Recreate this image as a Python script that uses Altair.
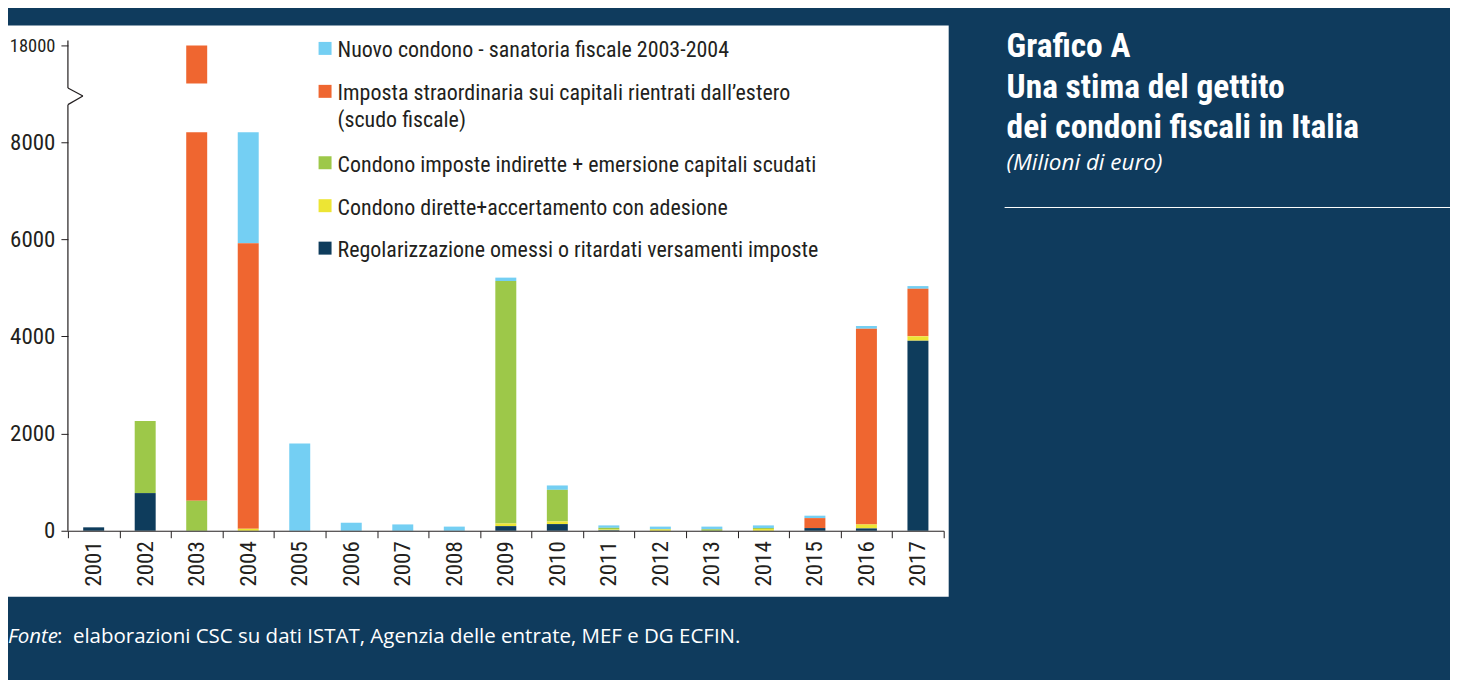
import altair as alt
import pandas as pd

# ---------------- data ----------------
years = [str(y) for y in range(2001, 2018)]
series = [
    "Nuovo condono - sanatoria fiscale 2003-2004",
    "Imposta straordinaria sui capitali rientrati dall’estero (scudo fiscale)",
    "Condono imposte indirette + emersione capitali scudati",
    "Condono dirette+accertamento con adesione",
    "Regolarizzazione omessi o ritardati versamenti imposte",
]
legend_labels = [
    "Nuovo condono - sanatoria fiscale 2003-2004",
    "Imposta straordinaria sui capitali rientrati dall’estero\n(scudo fiscale)",
    "Condono imposte indirette + emersione capitali scudati",
    "Condono dirette+accertamento con adesione",
    "Regolarizzazione omessi o ritardati versamenti imposte",
]
colors = ["#74cff3", "#ef6630", "#9dc849", "#ede534", "#0e3c5c"]

nuovo = [0, 0, 0, 2300, 1795, 165, 130, 85, 70, 90, 50, 50, 55, 55, 50, 56, 56]
scudo = [0, 0, 17383, 5880, 0, 0, 0, 0, 0, 0, 0, 0, 0, 0, 205, 4028, 978]
indirette = [0, 1485, 617, 0, 0, 0, 0, 0, 4990, 650, 35, 10, 30, 20, 0, 0, 0]
dirette = [0, 0, 0, 40, 0, 0, 0, 0, 55, 55, 15, 25, 0, 35, 0, 82, 90]
regolarizzazione = [70, 775, 0, 0, 0, 0, 0, 0, 95, 137, 10, 0, 0, 0, 55, 48, 3912]
values = [nuovo, scudo, indirette, dirette, regolarizzazione]

y_ticks = [0, 2000, 4000, 6000, 8000, 18000]
y_top = 18000
break_low, break_high = 8200, 16000

title_lines = "Grafico A\nUna stima del gettito\ndei condoni fiscali in Italia"
subtitle = "(Milioni di euro)"
source_it = "Fonte"
source_txt = ":\u00a0 elaborazioni CSC su dati ISTAT, Agenzia delle entrate, MEF e DG ECFIN."

# ---------------- layout ----------------
W, H = 877, 486
BG = "#0f3b5d"
AX = "#231f20"
NARROW = "Liberation Sans Narrow, Roboto Condensed, DejaVu Sans Condensed, sans-serif"
ppu = 97.3 / 2000.0
y_break_low_px = H - break_low * ppu
gap_px = 49
yscale = alt.Scale(domain=[0, break_low, break_high, y_top],
                   range=[H, y_break_low_px, y_break_low_px - gap_px, 0], nice=False)
xscale = alt.Scale(domain=years, paddingInner=0, paddingOuter=0)

xaxis = alt.Axis(labelAngle=270, tickBand="extent", tickSize=7, labelPadding=3,
                 labelFontSize=23, labelFont=NARROW, labelColor=AX,
                 domainColor=AX, tickColor=AX, zindex=1)
yaxis = alt.Axis(values=y_ticks, format="d", domain=False, tickSize=7,
                 labelPadding=6, labelFont=NARROW,
                 labelFontSize={"condition": {"test": "datum.value >= 10000", "value": 18.5}, "value": 23},
                 labelColor=AX, tickColor=AX, grid=False, zindex=1)

rows = []
for i, s in enumerate(series):
    for yr, v in zip(years, values[i]):
        rows.append({"year": yr, "series": s, "value": v, "k": len(series) - 1 - i})
df = pd.DataFrame(rows)

one = pd.DataFrame({"a": [0]})

panel = alt.Chart(one).mark_rect(color="white").encode(
    x=alt.value(-60), x2=alt.value(882), y=alt.value(-20), y2=alt.value(552))

bars = alt.Chart(df).mark_bar(size=21).encode(
    x=alt.X("year:N", scale=xscale, title=None, axis=xaxis),
    y=alt.Y("value:Q", stack="zero", scale=yscale, title=None, axis=yaxis),
    color=alt.Color("series:N", scale=alt.Scale(domain=series, range=colors), legend=None),
    order=alt.Order("k:Q", sort="ascending"),
)

mask = alt.Chart(pd.DataFrame({"year": ["2003"], "lo": [break_low], "hi": [break_high]})).mark_bar(
    size=25, color="white").encode(
    x=alt.X("year:N", scale=xscale, title=None, axis=xaxis),
    y=alt.Y("lo:Q", scale=yscale, title=None, axis=yaxis), y2="hi:Q")

# y axis line with break zigzag
def seg(x1, y1, x2, y2):
    return alt.Chart(one).mark_rule(color=AX, strokeWidth=1.2).encode(
        x=alt.value(x1), x2=alt.value(x2), y=alt.value(y1), y2=alt.value(y2))

axis_line = [seg(0, -5, 0, 42.7), seg(0, 42.7, 15, 50.7), seg(15, 50.7, 0, 59.3), seg(0, 59.3, 0, H)]

# legend (one square + one label per series)
base_lines = [12, 55, 126.5, 169.5, 212]
legend_layers = []
for s, lab, b in zip(series, legend_labels, base_lines):
    d = pd.DataFrame({"series": [s], "label": [lab]})
    legend_layers.append(alt.Chart(d).mark_square(size=169, opacity=1).encode(
        x=alt.value(257.5), y=alt.value(b - 9),
        color=alt.Color("series:N", scale=alt.Scale(domain=series, range=colors), legend=None)))
    legend_layers.append(alt.Chart(d).mark_text(
        align="left", baseline="alphabetic", fontSize=22, font=NARROW, color=AX,
        lineBreak="\n", lineHeight=27).encode(
        x=alt.value(270), y=alt.value(b), text="label:N"))

# titles
t1 = alt.Chart(one).mark_text(align="left", baseline="alphabetic", fontSize=33.5, fontWeight="bold",
                              font=NARROW, color="white", lineBreak="\n", lineHeight=40.5).encode(
    x=alt.value(940), y=alt.value(12), text=alt.value(title_lines))
t2 = alt.Chart(one).mark_text(align="left", baseline="alphabetic", fontSize=22.5, fontStyle="italic",
                              font="Open Sans", color="white").encode(
    x=alt.value(940), y=alt.value(125), text=alt.value(subtitle))
hline = alt.Chart(one).mark_rule(color="white", strokeWidth=1).encode(
    x=alt.value(938), x2=alt.value(1384), y=alt.value(162.3))

f1 = alt.Chart(one).mark_text(align="left", baseline="alphabetic", fontSize=20.5, fontStyle="italic",
                              font="Open Sans", color="white").encode(
    x=alt.value(-60), y=alt.value(598), text=alt.value(source_it))
f2 = alt.Chart(one).mark_text(align="left", baseline="alphabetic", fontSize=20.5,
                              font="Open Sans", color="white").encode(
    x=alt.value(-11), y=alt.value(598), text=alt.value(source_txt))

chart = alt.layer(panel, bars, mask, *axis_line, *legend_layers, t1, t2, hline, f1, f2).properties(
    width=W, height=H, background=BG,
    padding={"left": 60, "top": 37, "right": 507, "bottom": 149},
    autosize=alt.AutoSizeParams(type="none"),
).configure_view(stroke=None)

chart.save("out.html", embed_options={"renderer": "svg", "actions": False})
